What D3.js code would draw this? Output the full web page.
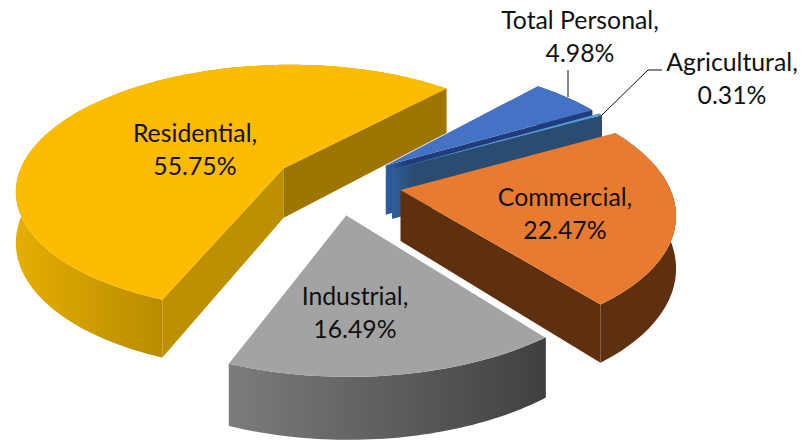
<!DOCTYPE html>
<html><head><meta charset="utf-8">
<script src="https://cdn.jsdelivr.net/npm/d3@7/dist/d3.min.js"></script>
<style>html,body{margin:0;background:#fff}svg{display:block}text{font-family:Lato,"Open Sans",sans-serif;font-size:24.8px;fill:#111;text-anchor:middle}</style>
</head><body><svg id="c" width="804" height="441"></svg>
<script>
// data
const categories=["Residential","Total Personal","Agricultural","Commercial","Industrial"];
const shares=[55.75,4.98,0.31,22.47,16.49];
const labelTexts=["55.75%","4.98%","0.31%","22.47%","16.49%"];
// styles
const topColors=["#fdbc00","#4472c4","#5b9bd5","#e97b30","#a3a3a3"];
const lastFace=[["#9c7600","#9c7600"],["#2f5f9e","#1f3c7c"],["#2f5f9e","#294c70"],["#5f3010","#5f3010"],["#666","#666"]];
const firstFace=[["#bc9000","#bc9000"],["#1f3c7c","#1f3c7c"],["#294c70","#294c70"],["#5f3010","#5f3010"],["#666","#666"]];
const outerStops=[["#e6ae00","#b88c00"],["#1f3c7c","#1f3c7c"],["#294c70","#294c70"],["#5f3010","#5f3010"],["#7c7c7c","#404040"]];
const labelPos=[[195,142],[580,29],[732,71],[565,206],[355,305]];
// projection params (3D pie)
const C=337,CY=184,F=268,G=125,P=0.16,DEPTH=50.5,E=0.24,THETA0=248.7*Math.PI/180;
const project=(X,Y,d=0)=>{const w=1-P*Y;return [C+F*X/w,CY+G*Y/w+d/w];};
const svg=d3.select("#c"),defs=svg.append("defs");
const arcs=d3.pie().sort(null).value(d=>d)(shares);
const line=d3.line();
const plot=svg.append("g");
const grad=(id,x1,x2,stops)=>{
  const g=defs.append("linearGradient").attr("id",id).attr("gradientUnits","userSpaceOnUse")
    .attr("x1",x1).attr("x2",x2).attr("y1",0).attr("y2",0);
  g.append("stop").attr("offset",0).attr("stop-color",stops[0]);
  g.append("stop").attr("offset",1).attr("stop-color",stops[1]);
  return `url(#${id})`;
};
// back to front
const order=[1,2,0,3,4];
order.forEach(i=>{
  const a=arcs[i];
  const th=p=>THETA0-p;
  const mid=th((a.startAngle+a.endAngle)/2);
  const ox=E*Math.cos(mid),oy=-E*Math.sin(mid);
  const pt=(t,r,d)=>project(ox+r*Math.cos(t),oy-r*Math.sin(t),d);
  const n=Math.max(2,Math.ceil((a.endAngle-a.startAngle)/0.02));
  const angs=d3.range(n+1).map(k=>th(a.startAngle+(a.endAngle-a.startAngle)*k/n));
  const rim=angs.map(t=>pt(t,1,0)), rimB=angs.map(t=>pt(t,1,DEPTH));
  const tip=pt(0,0,0),tipB=pt(0,0,DEPTH);
  const first=angs[0],last=angs[n];
  // outer wall
  const xs=d3.extent(rim,p=>p[0]);
  plot.append("path").attr("d",line(rim.concat(rimB.slice().reverse()))+"Z")
    .attr("fill",grad("o"+i,xs[0],i===0?162:xs[1],outerStops[i]));
  // radial faces, only the ones turned towards the viewer
  if(rim[n][0]>tip[0]) plot.append("path").attr("d",line([tip,pt(last,1,0),pt(last,1,DEPTH),tipB])+"Z")
    .attr("fill",grad("l"+i,tip[0],tip[0]+22,lastFace[i]));
  if(rim[0][0]<tip[0]) plot.append("path").attr("d",line([tip,pt(first,1,0),pt(first,1,DEPTH),tipB])+"Z")
    .attr("fill",firstFace[i][0]);
  // top face
  plot.append("path").attr("d",line([tip].concat(rim))+"Z").attr("fill",topColors[i]);
  if(i===4) plot.append("path").attr("d",line([tip,rim[0]])).attr("stroke","#fff").attr("stroke-width",1.5).attr("fill","none");
});
// leader lines
const leaders=[[[568,70],[568,97]],[[662,70],[648,70],[602,115]]];
leaders.forEach(l=>plot.append("path").attr("d",line(l)).attr("fill","none").attr("stroke","#111").attr("stroke-width",1));
// labels
categories.forEach((c,i)=>{
  const t=svg.append("text").attr("x",labelPos[i][0]).attr("y",labelPos[i][1]);
  t.append("tspan").attr("x",labelPos[i][0]).text(c+",");
  t.append("tspan").attr("x",labelPos[i][0]).attr("dy",32.5).text(labelTexts[i]);
});
</script></body></html>
